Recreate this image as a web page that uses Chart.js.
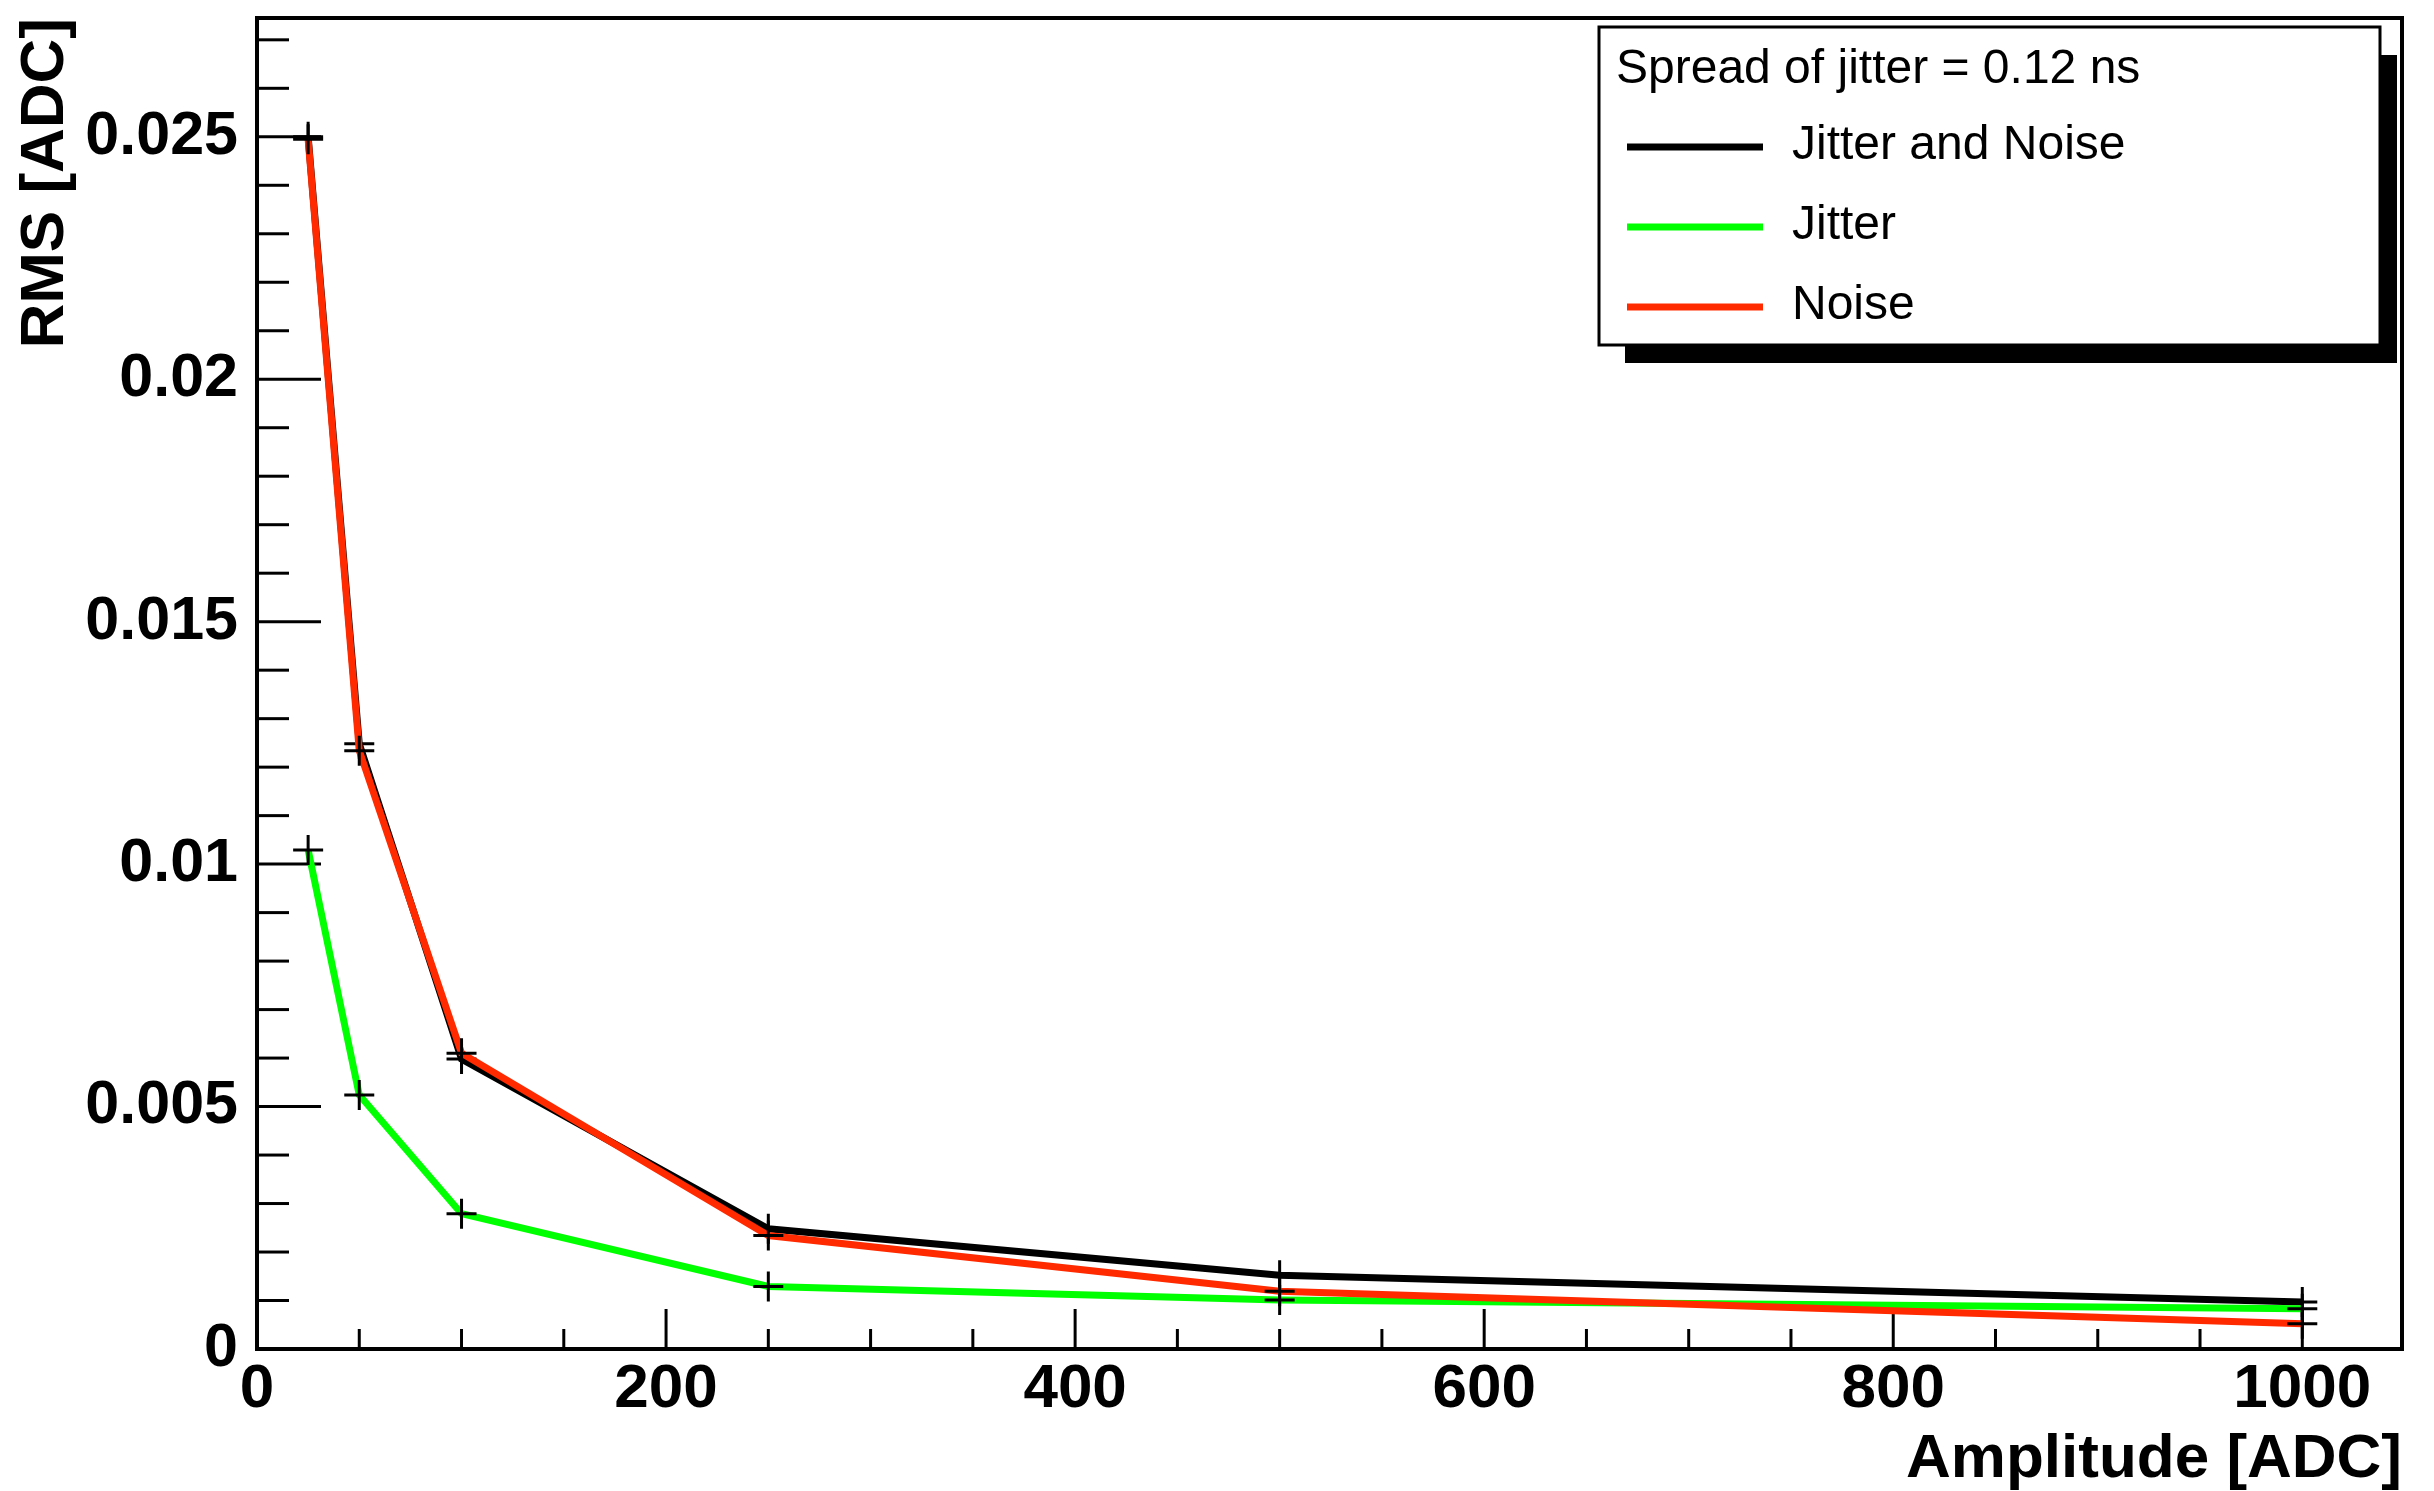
<!DOCTYPE html>
<html>
<head>
<meta charset="utf-8">
<title>RMS vs Amplitude</title>
<script src="https://cdn.jsdelivr.net/npm/chart.js@4.4.1/dist/chart.umd.min.js"></script>
<style>
  html, body { margin: 0; padding: 0; background: #fff; }
  canvas { display: block; }
</style>
</head>
<body>
<canvas id="chart" width="2434" height="1491"></canvas>
<script>
// values
const amplitudes = [25, 50, 100, 250, 500, 1000];
const jitterAndNoise = [0.0250, 0.01248, 0.00598, 0.00248, 0.00152, 0.00097];
const jitterOnly = [0.01029, 0.00524, 0.00279, 0.00129, 0.00101, 0.00083];
const noiseOnly = [0.02495, 0.01234, 0.0061, 0.00234, 0.00119, 0.00052];

const seriesLabels = ['Jitter and Noise', 'Jitter', 'Noise'];
const seriesColors = ['#000000', '#00ff00', '#ff2a00'];
const legendHeader = 'Spread of jitter = 0.12 ns';

const xTicks = [0, 200, 400, 600, 800, 1000];
const yTicks = [0, 0.005, 0.01, 0.015, 0.02, 0.025];
const yTickLabels = ['0', '0.005', '0.01', '0.015', '0.02', '0.025'];

const FONT = '"Liberation Sans", Arial, Helvetica, sans-serif';

function points(ys) {
  return amplitudes.map((x, i) => ({x, y: ys[i]}));
}

// ROOT style: frame plus inward ticks (major + minor)
const rootFrame = {
  id: 'rootFrame',
  beforeDatasetsDraw(chart) {
    const {ctx, chartArea: a, scales: {x, y}} = chart;
    ctx.save();
    ctx.strokeStyle = '#000';
    ctx.lineWidth = 3;
    for (let i = 0; i * 50 <= x.max; i++) {
      const px = x.getPixelForValue(i * 50);
      const len = i % 4 === 0 ? 40 : 20;
      ctx.beginPath();
      ctx.moveTo(px, a.bottom);
      ctx.lineTo(px, a.bottom - len);
      ctx.stroke();
    }
    for (let i = 0; i * 0.001 <= y.max; i++) {
      const py = y.getPixelForValue(i * 0.001);
      const len = i % 5 === 0 ? 64 : 32;
      ctx.beginPath();
      ctx.moveTo(a.left, py);
      ctx.lineTo(a.left + len, py);
      ctx.stroke();
    }
    ctx.lineWidth = 4;
    ctx.strokeRect(a.left, a.top, a.right - a.left, a.bottom - a.top);
    ctx.restore();
  }
};

// ROOT TLegend look: header, shadowed box
const rootLegend = {
  id: 'rootLegend',
  afterDraw(chart) {
    const ctx = chart.ctx;
    ctx.save();
    ctx.fillStyle = '#000';
    ctx.fillRect(1625, 55, 772, 308);
    ctx.fillStyle = '#fff';
    ctx.fillRect(1599, 27, 781, 318);
    ctx.strokeStyle = '#000';
    ctx.lineWidth = 3;
    ctx.strokeRect(1599, 27, 781, 318);

    ctx.fillStyle = '#000';
    ctx.font = '48px ' + FONT;
    ctx.textBaseline = 'alphabetic';
    ctx.fillText(legendHeader, 1616, 83);

    chart.data.datasets.forEach((ds, i) => {
      const ly = 147 + i * 80;
      ctx.strokeStyle = ds.borderColor;
      ctx.lineWidth = 7;
      ctx.beginPath();
      ctx.moveTo(1627, ly);
      ctx.lineTo(1763, ly);
      ctx.stroke();
      ctx.fillStyle = '#000';
      ctx.fillText(ds.label, 1792, ly + 12);
    });
    ctx.restore();
  }
};

const datasets = [jitterAndNoise, jitterOnly, noiseOnly].map((ys, i) => ({
  label: seriesLabels[i],
  data: points(ys),
  borderColor: seriesColors[i],
  backgroundColor: seriesColors[i],
  borderWidth: 7,
  pointStyle: 'cross',
  pointRadius: 15,
  pointBorderWidth: 3,
  pointBorderColor: '#000',
  pointHoverRadius: 15,
  tension: 0,
  order: 3 - i
}));

new Chart(document.getElementById('chart'), {
  type: 'line',
  data: {datasets},
  options: {
    responsive: false,
    animation: false,
    devicePixelRatio: 1,
    layout: {padding: {top: 12, right: 32, left: 0, bottom: 0}},
    plugins: {legend: {display: false}, tooltip: {enabled: false}},
    scales: {
      x: {
        type: 'linear',
        min: 0,
        max: 1048.75,
        afterBuildTicks: (scale) => { scale.ticks = xTicks.map(v => ({value: v})); },
        afterFit: (scale) => {
          scale.height = 142;
          scale.paddingLeft = 0;
          scale.paddingRight = 0;
        },
        grid: {display: false, drawTicks: false},
        border: {display: false},
        ticks: {
          color: '#000',
          padding: 4,
          maxRotation: 0,
          autoSkip: false,
          font: {family: FONT, size: 62, weight: 'bold'},
          callback: (v) => String(v)
        },
        title: {
          display: true,
          text: 'Amplitude [ADC]',
          align: 'end',
          color: '#000',
          padding: {top: 0, bottom: -6},
          font: {family: FONT, size: 62, weight: 'bold'}
        }
      },
      y: {
        type: 'linear',
        min: 0,
        max: 0.02745,
        afterBuildTicks: (scale) => { scale.ticks = yTicks.map(v => ({value: v})); },
        afterFit: (scale) => {
          scale.width = 257;
          scale.paddingTop = 0;
          scale.paddingBottom = 0;
        },
        grid: {display: false, drawTicks: false},
        border: {display: false},
        ticks: {
          color: '#000',
          padding: 19,
          autoSkip: false,
          font: {family: FONT, size: 61, weight: 'bold'},
          callback: (v) => yTickLabels[yTicks.indexOf(v)]
        },
        title: {
          display: true,
          text: 'RMS [ADC]',
          align: 'end',
          color: '#000',
          padding: {top: 9, bottom: 0},
          font: {family: FONT, size: 62, weight: 'bold'}
        }
      }
    }
  },
  plugins: [rootFrame, rootLegend]
});
</script>
</body>
</html>
